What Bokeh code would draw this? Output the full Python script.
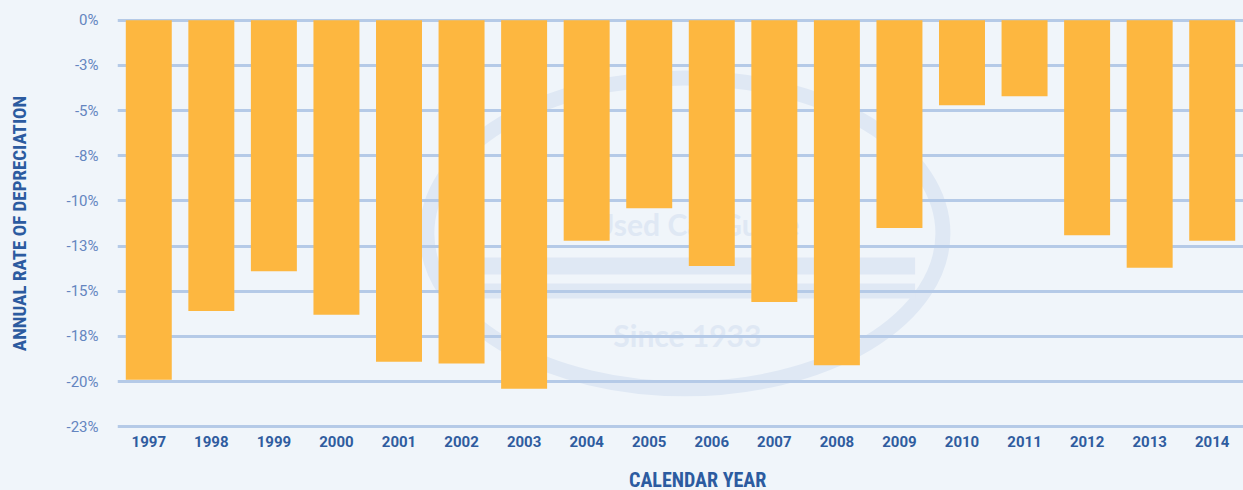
from bokeh.plotting import figure
from bokeh.models import FactorRange, Range1d, FixedTicker, Div
from bokeh.layouts import column
from bokeh.core.properties import value
from bokeh.embed import file_html
from bokeh.resources import INLINE

# ---- data ----
years = ["1997", "1998", "1999", "2000", "2001", "2002", "2003", "2004", "2005",
         "2006", "2007", "2008", "2009", "2010", "2011", "2012", "2013", "2014"]
rates = [-19.9, -16.1, -13.9, -16.3, -18.9, -19.0, -20.4, -12.2, -10.4,
         -13.6, -15.6, -19.1, -11.5, -4.7, -4.2, -11.9, -13.7, -12.2]
y_ticks = [0, -2.5, -5, -7.5, -10, -12.5, -15, -17.5, -20, -22.5]
y_tick_labels = ["0%", "-3%", "-5%", "-8%", "-10%", "-13%", "-15%", "-18%", "-20%", "-23%"]
x_title = "CALENDAR YEAR"
y_title = "ANNUAL RATE OF DEPRECIATION"

BG = "#F0F5FA"
WM = "#DFE8F4"
TITLE_FONT = "Liberation Sans Narrow, Roboto Condensed, Roboto, sans-serif"

p = figure(width=1243, height=462,
           x_range=FactorRange(factors=years, range_padding=0),
           y_range=Range1d(-22.6, 0.1),
           output_backend="svg", toolbar_location=None,
           min_border_left=117, min_border_right=0,
           min_border_top=18, min_border_bottom=34)
p.background_fill_color = BG
p.border_fill_color = BG
p.outline_line_color = None

# ---- faint watermark logo (decoration) ----
p.ellipse(x=[9.07], y=[-11.8], width=[8.25], height=[17.2],
          fill_color=None, line_color=WM, line_width=15, level="image")
p.quad(left=[5.2, 5.2], right=[12.75, 12.75], top=[-13.13, -14.57], bottom=[-14.07, -15.40],
       fill_color=WM, line_color=None, level="image")
p.text(x=[9.11, 9.25], y=[-17.4, -11.25], text=["Since 1933", "Used Car Guide"],
       text_font=value("Lato"), text_font_style="bold", text_font_size="30px",
       text_color=WM, text_align="center", text_baseline="middle", level="image")

# ---- bars ----
p.vbar(x=years, top=[0] * len(years), bottom=rates, width=0.735,
       fill_color="#FDB740", line_color=None)

# ---- grid ----
p.xgrid.grid_line_color = None
p.ygrid.ticker = FixedTicker(ticks=y_ticks)
p.ygrid.grid_line_color = "#B5CAE7"
p.ygrid.grid_line_width = 3

# ---- y axis ----
p.yaxis.ticker = FixedTicker(ticks=y_ticks)
p.yaxis.major_label_overrides = {t: lab for t, lab in zip(y_ticks, y_tick_labels)}
p.yaxis.axis_line_color = None
p.yaxis.major_tick_line_color = None
p.yaxis.minor_tick_line_color = None
p.yaxis.major_label_standoff = 13
p.yaxis.major_label_text_font = "Roboto"
p.yaxis.major_label_text_font_size = "15px"
p.yaxis.major_label_text_color = "#6485C0"
p.yaxis.axis_label = y_title
p.yaxis.axis_label_text_font = TITLE_FONT
p.yaxis.axis_label_text_font_style = "bold"
p.yaxis.axis_label_text_font_size = "19px"
p.yaxis.axis_label_text_color = "#2C5BA0"
p.yaxis.axis_label_standoff = 33

# ---- x axis ----
p.xaxis.axis_line_color = None
p.xaxis.major_tick_line_color = None
p.xaxis.minor_tick_line_color = None
p.xaxis.major_label_standoff = 1
p.xaxis.major_label_text_font = "Roboto"
p.xaxis.major_label_text_font_style = "bold"
p.xaxis.major_label_text_font_size = "15px"
p.xaxis.major_label_text_color = "#2F5C9F"

title_div = Div(
    text=(f'<div style="padding-left:629px;padding-top:8px;line-height:20px;'
          f'font-family:{TITLE_FONT};font-weight:bold;font-size:20px;color:#2C5BA0;">'
          f'{x_title}</div>'),
    width=1243, height=28, margin=0,
    styles={"background-color": BG})

layout = column(p, title_div, spacing=0, styles={"background-color": BG})

open("out.html", "w").write(file_html(layout, INLINE))
